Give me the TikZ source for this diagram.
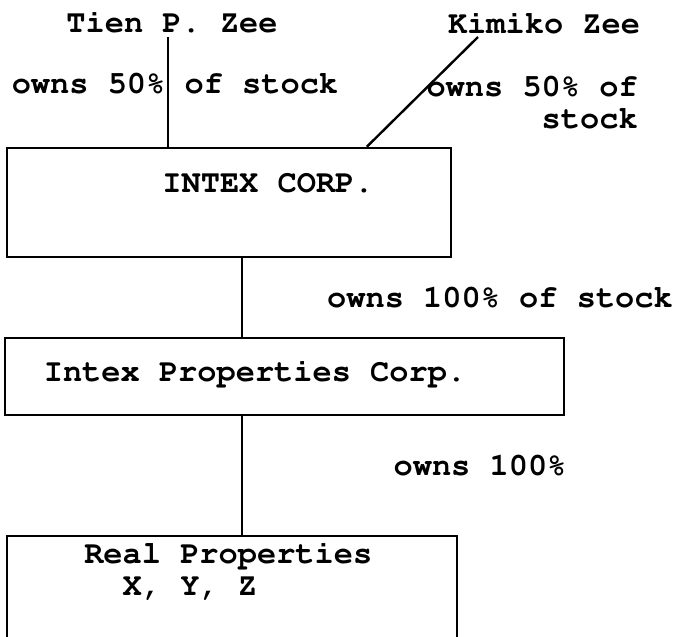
\documentclass[tikz,border=0pt]{standalone}
\usepackage[T1]{fontenc}
\usepackage{courier}

\begin{document}
\begin{tikzpicture}[x=0.75pt, y=-0.75pt,
    every node/.style={font=\ttfamily\bfseries\fontsize{24}{24}\selectfont, inner sep=0pt},
    entity/.style={draw, rectangle, line width=1.8pt},
    link/.style={line width=1.8pt}]
  \useasboundingbox (0,0) rectangle (682,636);
  \clip (0,0) rectangle (682,636);

  % Owners and their shares
  \node[anchor=base] (tien) at (172,32) {Tien P. Zee};
  \node[anchor=base] (kimiko) at (544,33) {Kimiko Zee};
  \node[anchor=base] (tienshare) at (175,93) {owns 50\% of stock};
  \node[anchor=base east, align=right] (kimshare) at (638,128) {owns 50\% of\\stock};

  % Companies
  \node[entity, minimum width=333pt, minimum height=81.75pt] (intex) at (229,202.5) {};
  \node[anchor=base] (intexname) at (268,192) {INTEX CORP.};

  \node[entity, minimum width=419.25pt, minimum height=57.75pt] (props) at (284.5,376.5) {};
  \node[anchor=base] (propsname) at (255,381) {Intex Properties Corp.};
  \node[anchor=base] (propshare) at (500,307) {owns 100\% of stock};

  \node[entity, anchor=north, minimum width=337.5pt, minimum height=150pt] (real) at (232,535) {};
  \node[anchor=base west, align=left] (realname) at (84,595) {Real Properties\\\hspace*{1.2em}X, Y, Z};
  \node[anchor=base] (realshare) at (480,475) {owns 100\%};

  % Ownership lines
  \coordinate (tienfoot) at (168,37);
  \coordinate (kimfoot) at (478,37);
  \coordinate (spine) at (242,0);
  \draw[link] (tienfoot) -- (tienfoot |- intex.north);
  \draw[link] (kimfoot) -- ([xshift=270.75pt]intex.north west);
  \draw[link] (spine |- intex.south) -- (spine |- props.north);
  \draw[link] (spine |- props.south) -- (spine |- real.north);
\end{tikzpicture}
\end{document}
